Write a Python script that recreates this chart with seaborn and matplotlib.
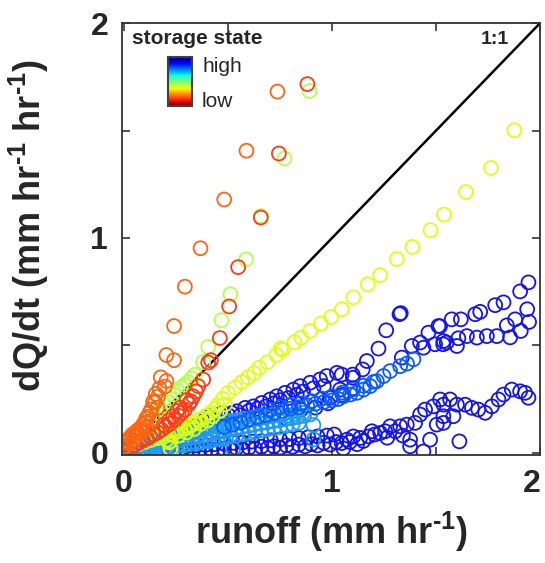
import numpy as np
import matplotlib
matplotlib.use("Agg")
import matplotlib.pyplot as plt
import matplotlib.transforms as mtransforms
import seaborn as sns

# ---- data (runoff, dQ/dt), one array pair per storage state ----
orange_x = [0.003, 0.010, 0.019, 0.030, 0.040, 0.051, 0.060, 0.072, 0.082, 0.090, 0.100, 0.106,
            0.115, 0.122, 0.130, 0.139, 0.148, 0.152, 0.163, 0.170, 0.176, 0.196, 0.203, 0.203,
            0.240, 0.240, 0.292, 0.367, 0.481, 0.588, 0.737,
            0.025, 0.045, 0.065, 0.085, 0.110, 0.135, 0.160]
orange_y = [0.028, 0.050, 0.061, 0.072, 0.085, 0.075, 0.100, 0.110, 0.107, 0.130, 0.140, 0.160,
            0.168, 0.185, 0.201, 0.237, 0.234, 0.274, 0.262, 0.300, 0.351, 0.308, 0.334, 0.455,
            0.431, 0.590, 0.773, 0.952, 1.179, 1.406, 1.681,
            0.040, 0.060, 0.080, 0.095, 0.120, 0.150, 0.210]

red_x = [0.010, 0.030, 0.050, 0.070, 0.090, 0.110, 0.124, 0.142, 0.160, 0.180, 0.200, 0.222,
         0.244, 0.262, 0.276, 0.292, 0.312, 0.332, 0.345, 0.356, 0.380, 0.404, 0.417, 0.460,
         0.505, 0.548, 0.657, 0.744, 0.881,
         0.190, 0.215, 0.235, 0.255, 0.270, 0.300, 0.320]
red_y = [0.015, 0.025, 0.035, 0.045, 0.058, 0.066, 0.076, 0.085, 0.095, 0.107, 0.122, 0.135,
         0.154, 0.172, 0.186, 0.200, 0.228, 0.263, 0.285, 0.310, 0.341, 0.420, 0.431, 0.534,
         0.681, 0.864, 1.095, 1.393, 1.716,
         0.130, 0.150, 0.170, 0.195, 0.210, 0.245, 0.240]

lime_x = [0.020, 0.040, 0.060, 0.070, 0.075, 0.090, 0.100, 0.106, 0.122, 0.130, 0.139, 0.155,
          0.160, 0.173, 0.180, 0.190, 0.206, 0.222, 0.240, 0.256, 0.273, 0.290, 0.307, 0.325,
          0.340, 0.380, 0.404, 0.468, 0.511, 0.586, 0.657, 0.771, 0.891]
lime_y = [0.050, 0.068, 0.088, 0.040, 0.104, 0.118, 0.050, 0.137, 0.150, 0.060, 0.163, 0.185,
          0.075, 0.204, 0.085, 0.220, 0.237, 0.252, 0.271, 0.287, 0.304, 0.316, 0.329, 0.346,
          0.363, 0.422, 0.492, 0.617, 0.738, 0.900, 1.102, 1.370, 1.684]

yellow_x = [0.160, 0.175, 0.190, 0.205, 0.215, 0.223, 0.223, 0.231, 0.245, 0.256, 0.262, 0.272,
            0.290, 0.300, 0.310, 0.323, 0.335, 0.345, 0.357, 0.370, 0.380, 0.390, 0.400, 0.415,
            0.425, 0.438, 0.449, 0.460, 0.474, 0.485, 0.499, 0.533, 0.566, 0.595, 0.625, 0.650,
            0.688, 0.732, 0.753, 0.762, 0.819, 0.851, 0.894, 0.946, 0.995, 1.047, 1.102, 1.171,
            1.231, 1.311, 1.386, 1.473, 1.538, 1.644, 1.764, 1.876]
yellow_y = [0.068, 0.078, 0.085, 0.060, 0.048, 0.020, 0.054, 0.087, 0.095, 0.104, 0.080, 0.110,
            0.112, 0.095, 0.120, 0.129, 0.110, 0.140, 0.154, 0.135, 0.160, 0.171, 0.150, 0.187,
            0.170, 0.205, 0.221, 0.195, 0.251, 0.225, 0.279, 0.304, 0.329, 0.351, 0.371, 0.396,
            0.421, 0.455, 0.486, 0.480, 0.515, 0.536, 0.567, 0.601, 0.632, 0.668, 0.723, 0.784,
            0.827, 0.902, 0.958, 1.036, 1.109, 1.214, 1.326, 1.501]

lightblue_x = [0.000, 0.015, 0.030, 0.045, 0.060, 0.075, 0.090, 0.105, 0.120, 0.135, 0.150, 0.165,
               0.180, 0.195, 0.210, 0.225, 0.240, 0.255, 0.270, 0.285, 0.300, 0.315, 0.330, 0.345,
               0.360, 0.375, 0.390, 0.405, 0.420, 0.435, 0.450, 0.470, 0.490, 0.510, 0.530, 0.550,
               0.575, 0.600, 0.625, 0.650, 0.680, 0.710, 0.750, 0.780, 0.820, 0.860, 0.910, 0.910,
               0.524,
               0.010, 0.030, 0.050, 0.070, 0.090, 0.110, 0.130, 0.150, 0.170, 0.190, 0.210, 0.230,
               0.250, 0.270, 0.290, 0.310, 0.330, 0.350, 0.370, 0.390, 0.410, 0.430, 0.450, 0.470,
               0.490, 0.510, 0.540, 0.570, 0.600, 0.630, 0.660, 0.690, 0.720, 0.750, 0.780, 0.810,
               0.840,
               0.020, 0.055, 0.085, 0.115, 0.145, 0.175, 0.205, 0.235, 0.265, 0.295, 0.325, 0.355,
               0.385, 0.415, 0.445, 0.475, 0.505, 0.535, 0.565, 0.595, 0.625, 0.655, 0.685, 0.715,
               0.745, 0.775, 0.805, 0.835, 0.865, 0.895]
lightblue_y = [0.012, 0.018, 0.022, 0.030, 0.028, 0.036, 0.040, 0.046, 0.044, 0.052, 0.058, 0.055,
               0.062, 0.068, 0.072, 0.070, 0.078, 0.085, 0.082, 0.090, 0.096, 0.094, 0.102, 0.108,
               0.112, 0.110, 0.118, 0.124, 0.122, 0.130, 0.136, 0.134, 0.142, 0.148, 0.146, 0.152,
               0.158, 0.156, 0.164, 0.170, 0.168, 0.176, 0.178, 0.172, 0.180, 0.186, 0.129, 0.062,
               0.017,
               0.002, 0.006, 0.004, 0.010, 0.012, 0.010, 0.016, 0.020, 0.018, 0.024, 0.028, 0.026,
               0.032, 0.036, 0.034, 0.040, 0.046, 0.044, 0.050, 0.056, 0.054, 0.060, 0.066, 0.064,
               0.070, 0.076, 0.080, 0.086, 0.092, 0.098, 0.104, 0.110, 0.114, 0.120, 0.126, 0.132,
               0.138,
               0.008, 0.014, 0.024, 0.028, 0.036, 0.040, 0.048, 0.052, 0.058, 0.064, 0.072, 0.076,
               0.082, 0.088, 0.096, 0.100, 0.108, 0.112, 0.118, 0.124, 0.130, 0.136, 0.140, 0.146,
               0.150, 0.156, 0.160, 0.166, 0.172, 0.178]

midblue_x = [0.480, 0.520, 0.560, 0.600, 0.640, 0.680, 0.720, 0.760, 0.800, 0.840, 0.880, 0.920,
             0.960, 1.000, 1.030, 1.054, 1.087, 1.119, 1.151, 1.183, 1.215, 1.247, 1.279, 1.327,
             1.360, 1.391,
             0.700, 0.750, 0.800, 0.850, 0.900, 0.950, 1.000, 1.050, 1.100, 1.150, 1.200]
midblue_y = [0.120, 0.130, 0.140, 0.155, 0.165, 0.175, 0.185, 0.195, 0.205, 0.212, 0.220, 0.228,
             0.236, 0.244, 0.250, 0.263, 0.271, 0.279, 0.294, 0.310, 0.333, 0.357, 0.380, 0.403,
             0.415, 0.435,
             0.200, 0.212, 0.222, 0.230, 0.240, 0.252, 0.262, 0.280, 0.295, 0.312, 0.330]

darkblue_x = [0.300, 0.340, 0.380, 0.410, 0.440, 0.470, 0.500, 0.518, 0.542, 0.560, 0.582, 0.600,
              0.622, 0.640, 0.662, 0.680, 0.702, 0.720, 0.734, 0.750, 0.774, 0.790, 0.814, 0.830,
              0.846, 0.860, 0.894, 0.910, 0.942, 0.960, 0.974, 0.990, 1.023, 1.038, 1.046, 1.099,
              1.100, 1.147, 1.167, 1.223, 1.260, 1.324, 1.330, 0.780, 0.850, 0.920, 0.980, 1.050,
              1.100,
              1.335, 1.383, 1.423, 1.439, 1.463, 1.495, 1.511, 1.535,
              1.519, 1.575, 1.619, 1.688, 1.712, 1.784, 1.824, 1.904, 1.944,
              1.534, 1.551, 1.600, 1.607, 1.648, 1.696, 1.744, 1.792, 1.840, 1.856, 1.880, 1.907,
              1.938, 1.947]
darkblue_y = [0.110, 0.125, 0.150, 0.170, 0.160, 0.185, 0.175, 0.185, 0.193, 0.175, 0.209, 0.195,
              0.216, 0.205, 0.232, 0.215, 0.248, 0.230, 0.263, 0.245, 0.279, 0.255, 0.294, 0.270,
              0.310, 0.285, 0.326, 0.300, 0.341, 0.310, 0.357, 0.256, 0.372, 0.294, 0.364, 0.364,
              0.349, 0.388, 0.427, 0.485, 0.570, 0.645, 0.650, 0.160, 0.200, 0.210, 0.230, 0.270,
              0.300,
              0.443, 0.497, 0.513, 0.489, 0.559, 0.505, 0.590, 0.520,
              0.589, 0.621, 0.621, 0.645, 0.656, 0.687, 0.700, 0.751, 0.793,
              0.505, 0.513, 0.497, 0.533, 0.543, 0.536, 0.543, 0.543, 0.593, 0.537, 0.621, 0.567,
              0.668, 0.609]

lowblue_x = [0.150, 0.180, 0.210, 0.240, 0.270, 0.300, 0.330, 0.360, 0.390, 0.420, 0.450, 0.480,
             0.510, 0.540, 0.570, 0.600, 0.630, 0.660, 0.690, 0.720, 0.750, 0.780, 0.810, 0.840,
             0.870, 0.900, 0.930, 0.960, 0.990, 1.020, 1.046, 1.054, 1.071, 1.085, 1.102, 1.120,
             1.135, 1.150, 1.175, 1.191, 1.205, 1.231, 1.255, 1.265, 1.279, 1.303, 1.327, 1.340,
             1.359, 1.375, 1.375, 1.399, 1.423, 1.439, 1.447, 1.471, 1.487, 1.503, 1.519, 1.535,
             1.535, 1.535, 1.567, 1.583, 1.600, 1.612, 1.639, 1.672, 1.703, 1.736, 1.768, 1.800,
             1.824, 1.864, 1.904, 1.928, 1.944,
             0.300, 0.345, 0.390, 0.435, 0.480, 0.525, 0.570, 0.615, 0.660, 0.705, 0.750, 0.795,
             0.840, 0.885, 0.930, 0.975, 1.010]
lowblue_y = [0.005, 0.008, 0.004, 0.010, 0.006, 0.012, 0.008, 0.014, 0.010, 0.016, 0.012, 0.018,
             0.014, 0.022, 0.016, 0.024, 0.018, 0.028, 0.022, 0.030, 0.024, 0.034, 0.028, 0.038,
             0.030, 0.040, 0.034, 0.046, 0.038, 0.050, 0.045, 0.020, 0.061, 0.050, 0.076, 0.040,
             0.069, 0.055, 0.076, 0.100, 0.085, 0.092, 0.100, 0.070, 0.123, 0.100, 0.123, 0.080,
             0.131, 0.061, 0.030, 0.139, 0.178, 0.006, 0.201, 0.061, 0.216, 0.131, 0.248, 0.170,
             0.224, 0.139, 0.248, 0.170, 0.224, 0.053, 0.224, 0.209, 0.201, 0.186, 0.216, 0.248,
             0.271, 0.294, 0.286, 0.279, 0.256,
             0.030, 0.034, 0.036, 0.040, 0.042, 0.046, 0.048, 0.052, 0.054, 0.058, 0.062, 0.064,
             0.068, 0.072, 0.076, 0.080, 0.085]

# draw order (first drawn ends up underneath)
series = [
    (lowblue_x, lowblue_y, "#1414E8"),
    (darkblue_x, darkblue_y, "#1414F0"),
    (lightblue_x, lightblue_y, "#1E9BF0"),
    (midblue_x, midblue_y, "#0A5AFF"),
    (yellow_x, yellow_y, "#DCFF14"),
    (lime_x, lime_y, "#B4FF4B"),
    (red_x, red_y, "#FF3A14"),
    (orange_x, orange_y, "#FF6414"),
]

LIMS = [-0.01, 2.0]

sns.set_style("ticks")
plt.rcParams["font.family"] = ["Liberation Sans", "DejaVu Sans"]
plt.rcParams["mathtext.fontset"] = "custom"
plt.rcParams["mathtext.rm"] = "Liberation Sans:bold"
plt.rcParams["mathtext.bf"] = "Liberation Sans:bold"

fig = plt.figure(figsize=(5.45, 5.63), dpi=100)
ax = fig.add_axes([0.224, 0.192, 0.767, 0.767])

ax.plot([0, 2], [0, 2], color="black", lw=1.8, zorder=1)

for xs, ys, col in series:
    sns.scatterplot(x=xs, y=ys, ax=ax, color=col, facecolor="none", edgecolor=col,
                    s=100, linewidth=1.3, zorder=2)

ax.set_xlim(LIMS)
ax.set_ylim(LIMS)
ax.set_xticks([0, 1, 2])
ax.set_yticks([0, 1, 2])
ax.set_xticks([0.5, 1.5], minor=True)
ax.set_yticks([0.5, 1.5], minor=True)
ax.set_xticklabels(["0", "1", "2"], fontsize=23, fontweight="bold")
ax.set_yticklabels(["0", "1", "2"], fontsize=23, fontweight="bold")
ax.tick_params(which="both", direction="in", length=6, width=1.2, color="#333333",
               top=True, right=True, pad=10)
for sp in ax.spines.values():
    sp.set_linewidth(1.3)
    sp.set_color("#333333")

# keep the last x tick label inside the figure
last = ax.get_xticklabels()[-1]
last.set_transform(last.get_transform() + mtransforms.ScaledTranslation(-6 / 72, 0, fig.dpi_scale_trans))

sup = r"$^{\text{-}1}$"
ax.set_xlabel("runoff (mm hr" + sup + ")", fontsize=26, fontweight="bold", labelpad=8)
ax.set_ylabel("dQ/dt (mm hr" + sup + " hr" + sup + ")", fontsize=26, fontweight="bold")
ax.yaxis.set_label_coords(-0.17, 0.53)

# storage-state colour key
fig.text(132 / 545, 1 - 38 / 563, "storage state", fontsize=15, fontweight="bold",
         ha="left", va="center")
fig.text(202 / 545, 1 - 66 / 563, "high", fontsize=15, ha="left", va="center")
fig.text(202 / 545, 1 - 102 / 563, "low", fontsize=15, ha="left", va="center")
fig.text(495 / 545, 1 - 40 / 563, "1:1", fontsize=14, fontweight="bold",
         ha="center", va="center")

cax = fig.add_axes([168 / 545, 1 - 106 / 563, 24 / 545, 49 / 563])
cax.imshow(np.linspace(0, 1, 128).reshape(-1, 1), cmap="jet", aspect="auto", origin="upper")
cax.set_xticks([])
cax.set_yticks([])
for sp in cax.spines.values():
    sp.set_linewidth(1.5)
    sp.set_color("#404040")

fig.savefig("out.png", dpi=100)
